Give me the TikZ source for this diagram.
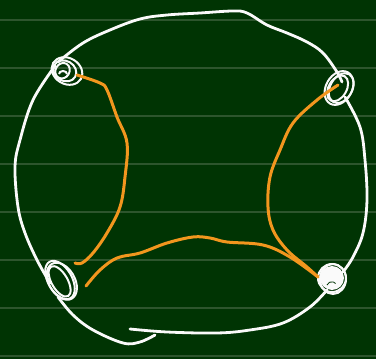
\documentclass[tikz,border=0pt]{standalone}
\usetikzlibrary{calc}
\definecolor{board}{RGB}{0,52,3}
\definecolor{rule}{RGB}{45,85,45}
\definecolor{chalk}{RGB}{250,250,250}
\definecolor{marker}{RGB}{242,150,30}
\tikzset{
  chalkline/.style={draw=chalk, line width=2.8pt, line cap=round, line join=round},
  markerline/.style={draw=marker, line width=3pt, line cap=round, line join=round},
  loopline/.style={draw=chalk, line width=2pt},
  ruleline/.style={draw=rule, line width=1.4pt}
}
\begin{document}
\begin{tikzpicture}[x=1pt,y=-1pt]
\fill[board] (0,0) rectangle (376,359);
\useasboundingbox (0,0) rectangle (376,359);
\foreach \yy in {20,68,116,164,212,260,308,356} \draw[ruleline] (0,\yy) -- (376,\yy);

\coordinate (tl) at (67,71);
\coordinate (tr) at (339,88);
\coordinate (bl) at (60,280);
\coordinate (br) at (332,278);

% outer white contour
\draw[chalkline] plot[smooth, tension=0.6] coordinates {
 (58,62) (83,43) (110,30) (140,19) (167,15) (200,13) (233,11) (247,13) (267,25) (287,33) (307,42) (323,53) (337,72) (342,82)};
\draw[chalkline] plot[smooth, tension=0.6] coordinates {
 (345,97) (360,127) (365,160) (367,200) (363,233) (353,257) (343,272)};
\draw[chalkline] plot[smooth, tension=0.6] coordinates {
 (327,290) (310,307) (283,323) (250,330) (217,333) (167,332) (130,329)};
\draw[chalkline] plot[smooth, tension=0.6] coordinates {
 (55,66) (33,100) (20,140) (15,167) (18,207) (25,233) (37,260) (50,283)};
\draw[chalkline] plot[smooth, tension=0.6] coordinates {
 (58,297) (73,315) (93,330) (123,343) (140,342) (155,335)};

% loops
\draw[loopline,rotate around={-30:(tl)}] (tl) ellipse (16 and 13);
\draw[loopline,rotate around={-30:(tl)}] ($(tl)+(-2,1)$) ellipse (12 and 10);
\draw[loopline,rotate around={-30:(tl)}] ($(tl)+(-4,2)$) ellipse (7 and 8);
\draw[loopline] ($(tl)+(-8,3)$) arc (180:360:4 and 3);
\draw[loopline,rotate around={60:(tr)}] (tr) ellipse (18 and 13);
\draw[loopline,rotate around={60:(tr)}] ($(tr)+(-1,-1)$) ellipse (14 and 9);
\draw[loopline,rotate around={60:(tr)}] ($(tr)+(1,2)$) ellipse (16 and 11);
\draw[loopline,rotate around={-60:(bl)}] (bl) ellipse (21 and 12);
\draw[loopline,rotate around={-60:(bl)}] ($(bl)+(1,1)$) ellipse (17 and 8);
\draw[loopline,rotate around={-60:(bl)}] ($(bl)+(2,-1)$) ellipse (20 and 13);
\fill[chalk] (br) circle (12);
\draw[loopline] (br) circle (14);
\draw[loopline] ($(br)+(1,1)$) ellipse (13 and 15);
\draw[draw=board, line width=0.8pt] (327,285) arc (200:320:5);

% orange marker curves
\draw[markerline] plot[smooth, tension=0.6] coordinates {
 (77,75) (100,83) (107,90) (117,117) (127,143) (125,177) (120,207) (107,233) (93,253) (82,263) (75,263)};
\draw[markerline] plot[smooth, tension=0.6] coordinates {
 (338,85) (317,100) (293,123) (280,150) (270,177) (268,207) (273,230) (287,250) (307,267) (318,277)};
\draw[markerline] plot[smooth, tension=0.6] coordinates {
 (86,286) (100,270) (117,258) (140,253) (167,243) (193,237) (210,238) (227,242) (263,245) (290,257) (318,277)};
\end{tikzpicture}
\end{document}
